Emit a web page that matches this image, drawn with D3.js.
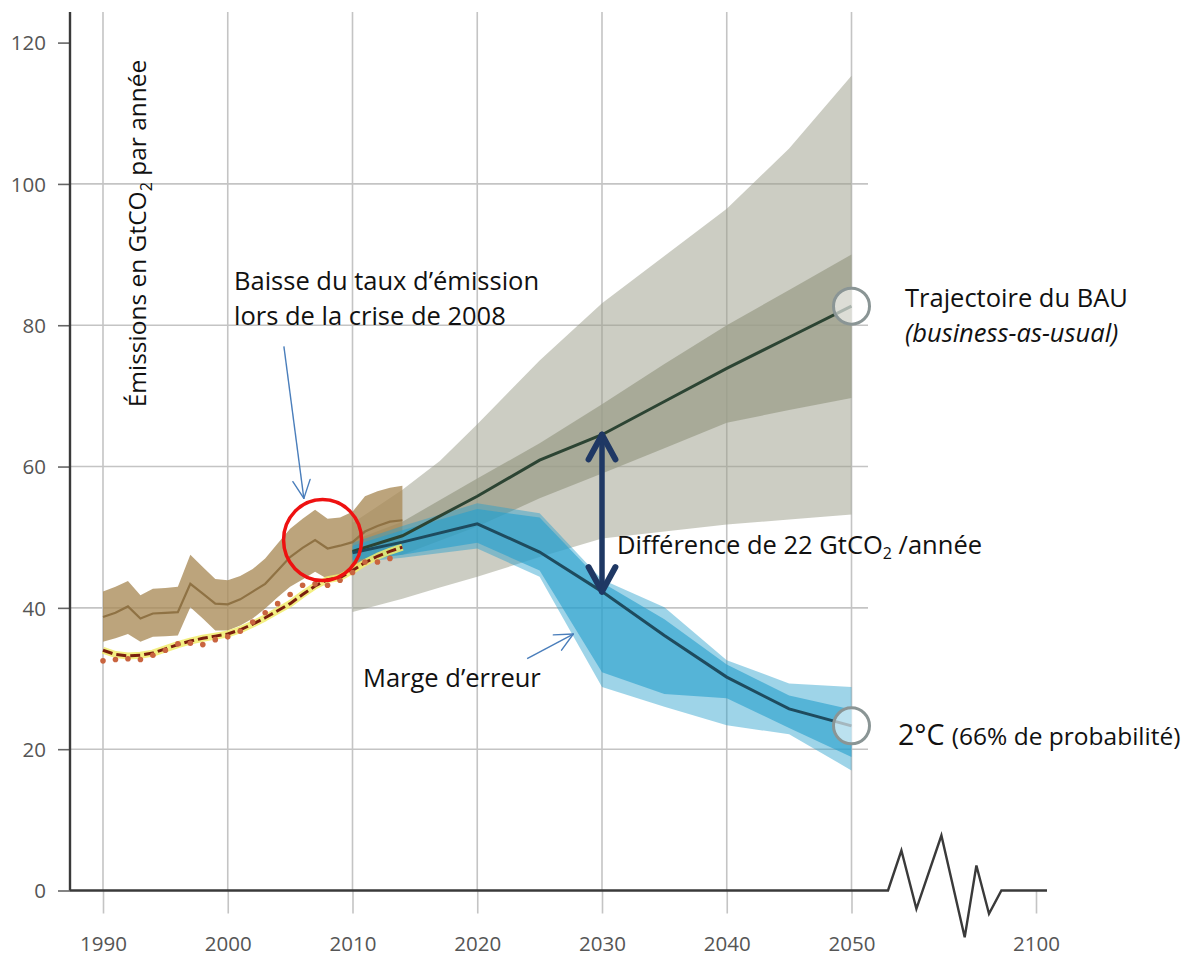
<!DOCTYPE html>
<html lang="fr">
<head>
<meta charset="utf-8">
<script src="https://cdn.jsdelivr.net/npm/d3@7"></script>
<style>
  html, body { margin: 0; padding: 0; background: #fff; }
  svg { display: block; }
  .note { font-family: "Open Sans", "Noto Sans", sans-serif; fill: #111; }
  .tick text { font-family: "Open Sans", "Noto Sans", sans-serif; fill: #555; }
</style>
</head>
<body>
<svg id="chart" width="1195" height="955"></svg>
<script>
// ---- Historical emissions, 1990–2014 (GtCO2 per year) ----
const histYears   = [1990,1991,1992,1993,1994,1995,1996,1997,1998,1999,2000,2001,2002,2003,2004,2005,2006,2007,2008,2009,2010,2011,2012,2013,2014];
const histCenter  = [38.7,39.3,40.2,38.5,39.2,39.3,39.4,43.4,42.0,40.6,40.5,41.2,42.3,43.4,45.3,47.2,48.5,49.6,48.4,48.8,49.3,50.8,51.6,52.2,52.4];
const histUpper   = [42.3,43.0,43.8,41.8,42.7,42.8,43.0,47.5,45.8,44.1,43.9,44.5,45.5,47.0,49.1,51.2,52.6,53.9,52.6,52.8,53.6,55.8,56.5,57.0,57.3];
const histLower   = [35.2,35.7,36.3,35.2,35.9,36.0,36.1,40.1,38.5,36.8,36.8,37.5,38.5,39.9,41.5,43.0,44.0,45.1,44.1,44.6,45.1,46.5,47.4,48.0,48.6];
const histDashed  = [34.0,33.4,33.2,33.3,33.6,34.2,34.8,35.3,35.7,36.0,36.3,36.9,37.7,38.6,39.6,40.6,41.9,43.1,44.0,44.3,45.3,46.4,47.3,48.0,48.6];
const dotYears    = [1990,1991,1992,1993,1994,1995,1996,1997,1998,1999,2000,2001,2002,2003,2004,2005,2006,2007,2008,2009,2010,2011,2012,2013];
const histDotted  = [32.5,32.7,32.8,32.7,33.3,34.0,34.9,35.0,34.8,35.5,35.9,36.7,38.0,39.3,40.6,41.9,43.2,43.4,43.2,43.9,45.0,46.5,46.5,47.0];

// ---- Business-as-usual pathway, 2010–2050 ----
const projYears    = [2010,2014,2020,2025,2030,2035,2040,2045,2050];
const bauCenter    = [48.0,50.2,55.8,60.9,64.5,69.2,73.9,78.3,82.7];
const bauInnerHigh = [49.5,52.2,58.3,63.3,68.8,74.5,80.0,85.0,90.0];
const bauInnerLow  = [46.5,47.5,51.5,55.5,59.0,62.6,66.2,68.0,69.7];
const bauOuterYears= [2010,2014,2017,2020,2025,2030,2035,2040,2045,2050];
const bauOuterHigh = [52.0,56.7,60.8,66.0,75.0,83.1,89.8,96.5,105.0,115.3];
const bauOuterLow  = [39.4,41.3,42.9,44.4,47.2,49.8,50.8,51.8,52.5,53.2];

// ---- 2 °C pathway (66 % probability), 2010–2050 ----
const twoCenter    = [47.8,49.3,51.9,47.9,42.3,36.1,30.2,25.7,23.3];
const twoInnerHigh = [48.8,51.0,54.0,52.8,43.6,38.4,32.0,27.6,25.6];
const twoInnerLow  = [46.8,47.5,49.2,45.3,30.9,27.8,27.2,23.0,18.9];
const twoOuterHigh = [49.2,51.6,54.8,53.4,44.0,40.1,32.6,29.3,28.8];
const twoOuterLow  = [46.4,47.1,48.4,44.4,28.8,26.0,23.4,22.1,17.0];

// ---- Axis ticks ----
const yTicks = [0,20,40,60,80,100,120];
const yGrid  = [20,40,60,80,100];
const xTicks = [1990,2000,2010,2020,2030,2040,2050,2100];
const xGrid  = [1990,2000,2010,2020,2030,2040,2050];

const svg = d3.select("#chart");

// Compressed axis: 2050–2100 occupies a short stretch after the break
const x = d3.scaleLinear().domain([1990, 2050, 2100]).range([103, 851.5, 1036]);
const y = d3.scaleLinear().domain([0, 120]).range([890.5, 42.6]);

const plotLeft = 70, plotTop = 12, gridRight = 868, axisRight = 1047;

// ---- Grid ----
const grid = svg.append("g");
grid.selectAll(".vg").data(xGrid).join("line")
  .attr("x1", d => x(d)).attr("x2", d => x(d))
  .attr("y1", plotTop).attr("y2", y(0))
  .attr("stroke", "#c4c4c4").attr("stroke-width", 1.6);
grid.selectAll(".hg").data(yGrid).join("line")
  .attr("x1", plotLeft).attr("x2", gridRight)
  .attr("y1", d => y(d)).attr("y2", d => y(d))
  .attr("stroke", "#c4c4c4").attr("stroke-width", 1.6);

// ---- Bands ----
const band = (years, lo, hi) => d3.area()
  .x((d, i) => x(years[i]))
  .y0((d, i) => y(lo[i]))
  .y1((d, i) => y(hi[i]))(years);
const line = (years, vals) => d3.line()
  .x((d, i) => x(years[i]))
  .y((d, i) => y(vals[i]))(years);

const bands = svg.append("g");
bands.append("path").attr("d", band(bauOuterYears, bauOuterLow, bauOuterHigh))
  .attr("fill", "#9a9c88").attr("fill-opacity", 0.5);
bands.append("path").attr("d", band(projYears, bauInnerLow, bauInnerHigh))
  .attr("fill", "#9a9c88").attr("fill-opacity", 0.72);

bands.append("path").attr("d", band(histYears, histLower, histUpper))
  .attr("fill", "#a98a57").attr("fill-opacity", 0.78);

bands.append("path").attr("d", band(projYears, twoOuterLow, twoOuterHigh))
  .attr("fill", "#28a0cd").attr("fill-opacity", 0.45);
bands.append("path").attr("d", band(projYears, twoInnerLow, twoInnerHigh))
  .attr("fill", "#28a0cd").attr("fill-opacity", 0.62);

// ---- Historical lines ----
const hist = svg.append("g");
hist.append("path").attr("d", line(histYears, histCenter))
  .attr("fill", "none").attr("stroke", "#8f7244").attr("stroke-width", 2.2);
hist.append("path").attr("d", line(histYears, histDashed))
  .attr("fill", "none").attr("stroke", "#f1ec6c").attr("stroke-width", 7)
  .attr("stroke-opacity", 0.85).attr("stroke-linejoin", "round");
hist.append("path").attr("d", line(histYears, histDashed))
  .attr("fill", "none").attr("stroke", "#7a1f0e").attr("stroke-width", 3)
  .attr("stroke-dasharray", "10,4");
hist.selectAll(".dot").data(histDotted).join("circle")
  .attr("cx", (d, i) => x(dotYears[i])).attr("cy", d => y(d))
  .attr("r", 2.8).attr("fill", "#c9643f");

// ---- Projection lines ----
svg.append("path").attr("d", line(projYears, bauCenter))
  .attr("fill", "none").attr("stroke", "#2c4433").attr("stroke-width", 3);
svg.append("path").attr("d", line(projYears, twoCenter))
  .attr("fill", "none").attr("stroke", "#1e4b5e").attr("stroke-width", 3);

// End markers at 2050
const last = projYears.length - 1;
[bauCenter[last], twoCenter[last]].forEach(v => {
  svg.append("circle").attr("cx", x(2050)).attr("cy", y(v)).attr("r", 18)
    .attr("fill", "#fff").attr("fill-opacity", 0.6)
    .attr("stroke", "#8a9595").attr("stroke-width", 3);
});

// ---- Axes ----
const yAxis = svg.append("g").attr("transform", `translate(${plotLeft},0)`)
  .call(d3.axisLeft(y).tickValues(yTicks).tickSize(12).tickPadding(12));
yAxis.select(".domain").remove();
yAxis.selectAll(".tick line").attr("stroke", "#666").attr("stroke-width", 1.6);
yAxis.selectAll(".tick text").attr("font-size", 20.5).attr("dy", "0.35em");

const xAxis = svg.append("g").attr("transform", `translate(0,${y(0)})`)
  .call(d3.axisBottom(x).tickValues(xTicks).tickSize(23).tickPadding(0).tickFormat(d3.format("d")));
xAxis.select(".domain").remove();
xAxis.selectAll(".tick line").attr("stroke", "#c4c4c4").attr("stroke-width", 1.6);
xAxis.selectAll(".tick text").attr("font-size", 20.5).attr("dy", null).attr("y", 60);

svg.append("line").attr("x1", plotLeft).attr("x2", plotLeft)
  .attr("y1", plotTop).attr("y2", y(0))
  .attr("stroke", "#3a3a3a").attr("stroke-width", 2.4);

// Baseline with a break symbol between 2050 and 2100
const breakStart = x(2050) + 36.5;
const zig = [[0,0],[13.4,-40],[28.4,18.3],[53.4,-55],[76.7,46.7],[88.4,-25],[101,23.3],[113.4,0]];
const basePts = [[plotLeft, y(0)]]
  .concat(zig.map(([dx, dy]) => [breakStart + dx, y(0) + dy]))
  .concat([[axisRight, y(0)]]);
svg.append("path").attr("d", d3.line()(basePts))
  .attr("fill", "none").attr("stroke", "#3a3a3a").attr("stroke-width", 2.4)
  .attr("stroke-linejoin", "miter");

// ---- Annotations ----
const arrowHead = (g, x1, y1, x2, y2, len, spread, color, w) => {
  const a = Math.atan2(y2 - y1, x2 - x1);
  [-spread, spread].forEach(s => {
    g.append("line").attr("x1", x2).attr("y1", y2)
      .attr("x2", x2 - len * Math.cos(a + s)).attr("y2", y2 - len * Math.sin(a + s))
      .attr("stroke", color).attr("stroke-width", w).attr("stroke-linecap", "round");
  });
};
const pointer = (from, to) => {
  const g = svg.append("g");
  const [x1, y1, x2, y2] = [x(from[0]), y(from[1]), x(to[0]), y(to[1])];
  g.append("line").attr("x1", x1).attr("y1", y1).attr("x2", x2).attr("y2", y2)
    .attr("stroke", "#4a7ebb").attr("stroke-width", 1.4);
  arrowHead(g, x1, y1, x2, y2, 20, 0.45, "#4a7ebb", 1.4);
};

const noteSize = 25.5;

// Crisis of 2008
svg.append("ellipse").attr("cx", x(2007.6)).attr("cy", y(49.6)).attr("rx", 39).attr("ry", 40.5)
  .attr("fill", "none").attr("stroke", "#ee1111").attr("stroke-width", 3.5);
pointer([2004.5, 77.0], [2006.1, 55.5]);
const t1 = svg.append("text").attr("class", "note").attr("font-size", noteSize);
t1.append("tspan").attr("x", 234).attr("y", 290).text("Baisse du taux d’émission");
t1.append("tspan").attr("x", 234).attr("y", 325).text("lors de la crise de 2008");

// Error margin
pointer([2024.0, 32.8], [2027.7, 36.3]);
svg.append("text").attr("class", "note").attr("font-size", noteSize)
  .attr("x", 363).attr("y", 687).text("Marge d’erreur");

// Gap between pathways in 2030
const i2030 = projYears.indexOf(2030);
const gapTop = y(bauCenter[i2030]), gapBot = y(twoCenter[i2030]), gx = x(2030);
const gap = svg.append("g");
gap.append("line").attr("x1", gx).attr("x2", gx).attr("y1", gapTop + 3).attr("y2", gapBot - 3)
  .attr("stroke", "#1f3864").attr("stroke-width", 5.5);
arrowHead(gap, gx, gapBot, gx, gapTop, 28, 0.5, "#1f3864", 6);
arrowHead(gap, gx, gapTop, gx, gapBot, 28, 0.5, "#1f3864", 6);
const t2 = svg.append("text").attr("class", "note").attr("font-size", noteSize)
  .attr("x", 617).attr("y", 554);
t2.append("tspan").text("Différence de " + d3.format(".0f")(bauCenter[i2030] - twoCenter[i2030]) + " GtCO");
t2.append("tspan").attr("font-size", 16).attr("dy", 5).text("2");
t2.append("tspan").attr("dy", -5).text(" /année");

// Pathway labels
const t3 = svg.append("text").attr("class", "note").attr("font-size", noteSize);
t3.append("tspan").attr("x", 905).attr("y", 307).text("Trajectoire du BAU");
t3.append("tspan").attr("x", 905).attr("y", 342).attr("font-style", "italic").text("(business-as-usual)");

const t4 = svg.append("text").attr("class", "note").attr("x", 898).attr("y", 745);
t4.append("tspan").attr("font-size", 28.5).text("2°C ");
t4.append("tspan").attr("font-size", 24.5).text("(66% de probabilité)");

// Y axis title
const yt = svg.append("text").attr("class", "note").attr("font-size", 24.5)
  .attr("transform", `translate(146,${(412 + 55) / 2}) rotate(-90)`)
  .attr("text-anchor", "middle");
yt.append("tspan").text("Émissions en GtCO");
yt.append("tspan").attr("font-size", 16).attr("dy", 6).text("2");
yt.append("tspan").attr("dy", -6).text(" par année");
</script>
</body>
</html>
